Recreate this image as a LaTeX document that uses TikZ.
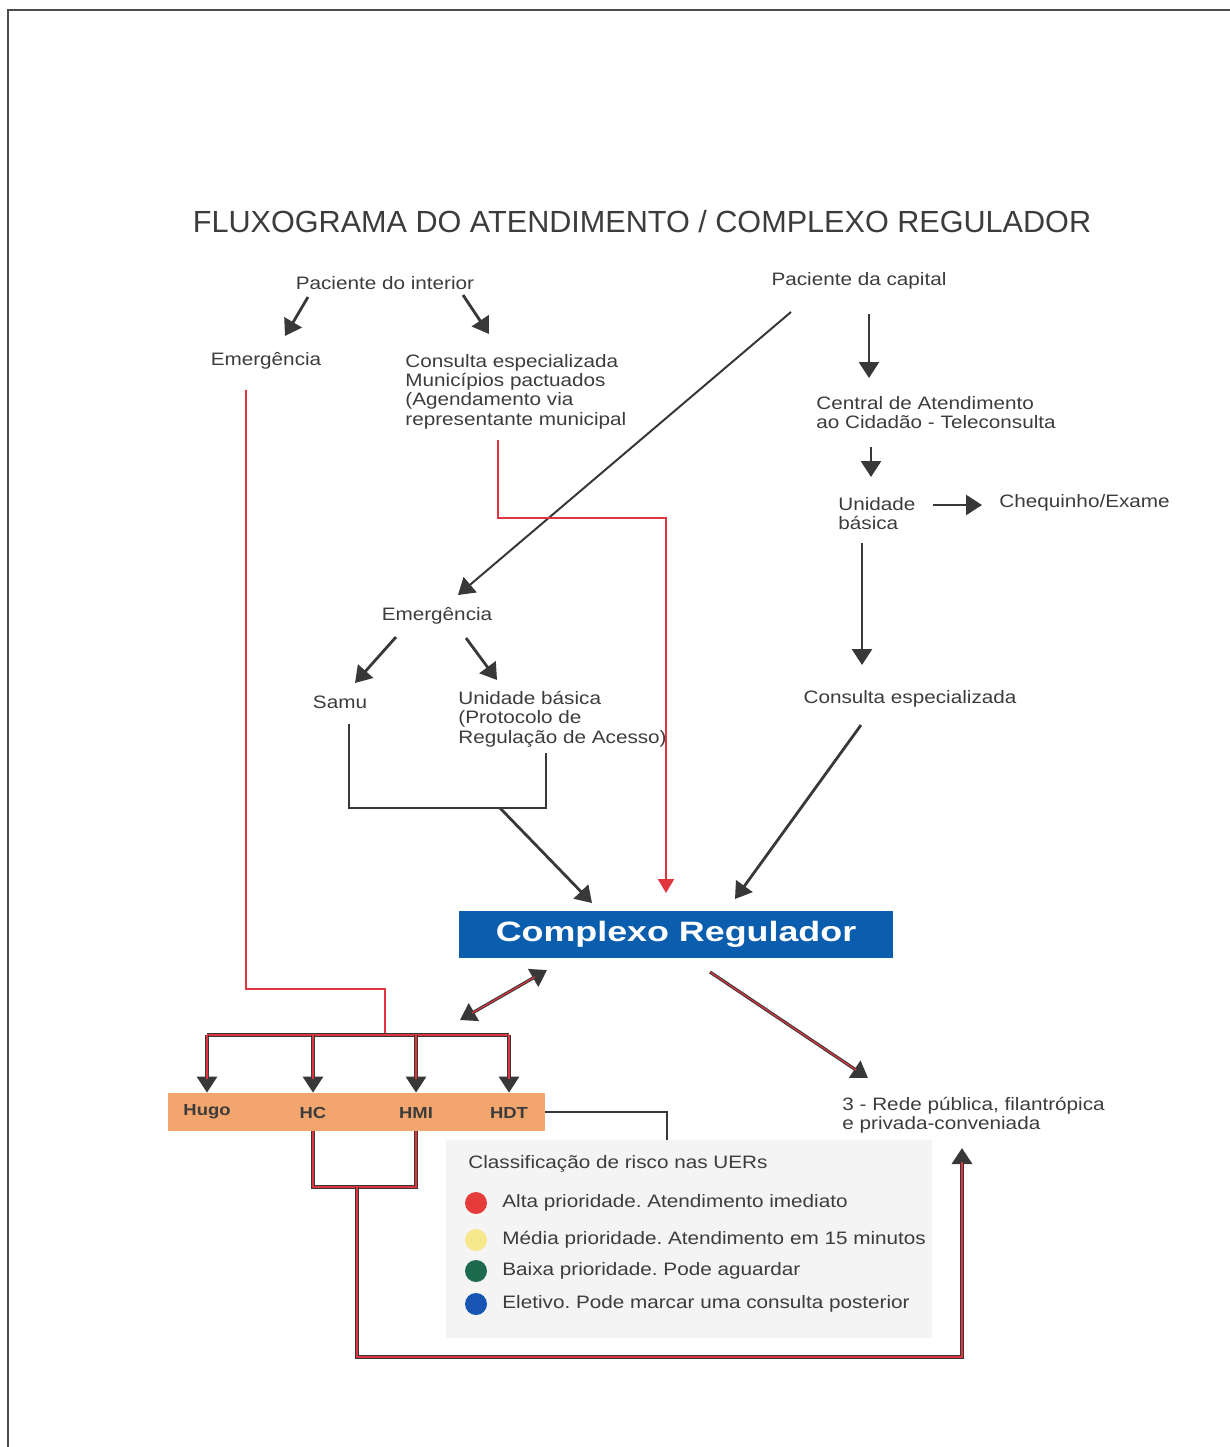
\documentclass[tikz,border=0pt]{standalone}
\usepackage{fontspec}
\setmainfont{Liberation Sans}
\newfontfamily\bodyfont{Liberation Sans}[FakeStretch=1.15]
\newfontfamily\cregfont{Liberation Sans}[FakeStretch=1.28]
\usetikzlibrary{arrows.meta,calc}
\frenchspacing
\definecolor{darkline}{HTML}{383838}
\definecolor{redline}{HTML}{E0353F}
\definecolor{regblue}{HTML}{0B5DAE}
\definecolor{hosporange}{HTML}{F2A56C}
\definecolor{txtgray}{HTML}{3C3C3C}
\definecolor{leggray}{HTML}{F4F4F4}
\definecolor{dotred}{HTML}{E63B3B}
\definecolor{dotyellow}{HTML}{F6E98C}
\definecolor{dotgreen}{HTML}{1E6A4E}
\definecolor{dotblue}{HTML}{1656B2}

\begin{document}
\begin{tikzpicture}[x=0.5pt, y=-0.5pt,
  txt/.style={font=\bodyfont\fontsize{9}{9.6}\selectfont, text=txtgray, inner sep=0pt, align=left},
  hosp/.style={font=\bodyfont\bfseries\fontsize{8}{9}\selectfont, text=txtgray, inner sep=0pt},
  arr/.style={draw=darkline, line width=1.4pt, -{Triangle[width=10pt,length=8pt]}},
  thinarr/.style={draw=darkline, line width=1pt, -{Triangle[width=10pt,length=8pt]}},
  link/.style={draw=darkline, line width=1.4pt},
  redlink/.style={draw=redline, line width=1pt},
  redarr/.style={draw=redline, line width=1pt, -{Triangle[width=8pt,length=7pt]}},
  mixedline/.style={draw=darkline, line width=1.6pt, postaction={draw=redline, line width=0.6pt}},
  mixedarr/.style={draw=darkline, line width=1.6pt, -{Triangle[width=10pt,length=8pt]},
    postaction={draw=redline, line width=0.6pt, -, shorten >=7pt}},
  mixedboth/.style={draw=darkline, line width=1.6pt, {Triangle[width=10pt,length=8pt]}-{Triangle[width=10pt,length=8pt]},
    postaction={draw=redline, line width=0.6pt, -, shorten >=7pt, shorten <=7pt}}]
  \useasboundingbox (0,0) rectangle (1230,1447);
  \draw[gray!60!black, line width=1pt] (8,1447) -- (8,10) -- (1230,10);

  \node[font=\fontsize{15.3}{17}\selectfont, text=txtgray, inner sep=0pt] (title) at (642,222) {FLUXOGRAMA DO ATENDIMENTO / COMPLEXO REGULADOR};

  \node[txt] (pint) at (385,283) {Paciente do interior};
  \node[txt] (pcap) at (859,281) {Paciente da capital};
  \node[txt] (emer1) at (266,361) {Emergência};
  \node[txt, anchor=north west] (cesp1) at (405,354) {Consulta especializada\\Municípios pactuados\\(Agendamento via\\representante municipal};
  \node[txt, anchor=north west] (cac) at (816,396) {Central de Atendimento\\ao Cidadão - Teleconsulta};
  \node[txt, anchor=north west] (ub1) at (838,497) {Unidade\\básica};
  \node[txt, anchor=west] (cheq) at (999,503) {Chequinho/Exame};
  \node[txt] (emer2) at (437,616) {Emergência};
  \node[txt] (samu) at (340,702) {Samu};
  \node[txt, anchor=north west] (ub2) at (458,691) {Unidade básica\\(Protocolo de\\Regulação de Acesso)};
  \node[txt] (cesp2) at (910,699) {Consulta especializada};
  \node[fill=regblue, minimum width=217pt, minimum height=23.5pt, inner sep=0pt, text=white,
    font=\cregfont\bfseries\fontsize{14}{16}\selectfont] (creg) at (676,934.5) {Complexo Regulador};
  \node[fill=hosporange, minimum width=188.5pt, minimum height=19pt, inner sep=0pt] (bar) at (356.5,1112) {};
  \node[hosp] (hugo) at (207,1112) {Hugo};
  \node[hosp] (hc) at (313,1113) {HC};
  \node[hosp] (hmi) at (416,1113) {HMI};
  \node[hosp] (hdt) at (509,1113) {HDT};
  \node[txt, anchor=north west] (rede) at (842,1097) {3 - Rede pública, filantrópica\\e privada-conveniada};
  \node[fill=leggray, minimum width=243pt, minimum height=99pt, inner sep=0pt] (leg) at (689,1239) {};
  \node[txt, anchor=west] (legtitle) at (468,1164) {Classificação de risco nas UERs};
  \foreach \c/\t/\y [count=\i] in {dotred/Alta prioridade. Atendimento imediato/1203,
      dotyellow/Média prioridade. Atendimento em 15 minutos/1240,
      dotgreen/Baixa prioridade. Pode aguardar/1271,
      dotblue/Eletivo. Pode marcar uma consulta posterior/1304} {
    \node[circle, fill=\c, minimum size=11pt, inner sep=0pt] (dot\i) at (476,\y) {};
    \node[txt, anchor=west] (item\i) at (502,\y) {\t};
  }

  \coordinate (join) at (500,808);
  \coordinate (bus) at (385,1035);
  \coordinate (join2) at (357,1187);

  \draw[arr] ([shift={(-77,14)}]pint.center) -- ([shift={(19,-25)}]emer1.center);
  \draw[arr] ([shift={(78,12)}]pint.center) -- ([shift={(84,-20)}]cesp1.north west);
  \draw[thinarr] ([shift={(-68,31)}]pcap.center) -- ([shift={(21,-21)}]emer2.center);
  \draw[arr] ([shift={(10,33)}]pcap.center) -- ([shift={(53,-18)}]cac.north west);
  \draw[arr] ([shift={(55,51)}]cac.north west) -- ([shift={(33,-20)}]ub1.north west);
  \draw[arr] ([shift={(95,8)}]ub1.north west) -- ([shift={(-17,2)}]cheq.west);
  \draw[arr] ([shift={(24,46)}]ub1.north west) -- ([shift={(-48,-34)}]cesp2.center);
  \draw[arr] ([shift={(-41,21)}]emer2.center) -- ([shift={(15,-19)}]samu.center);
  \draw[arr] ([shift={(29,22)}]emer2.center) -- ([shift={(39,-11)}]ub2.north west);
  \draw[link] ([shift={(9,22)}]samu.center) |- (join) -| ([shift={(88,62)}]ub2.north west);
  \draw[arr] (join) -- ([shift={(-84,-31.5)}]creg.center);
  \draw[redarr] ([shift={(93,86)}]cesp1.north west) -- ++(0,78) -| ([shift={(-10,-41.5)}]creg.center);
  \draw[arr] ([shift={(-49,26)}]cesp2.center) -- ([shift={(59,-35.5)}]creg.center);

  \draw[redlink] ([shift={(-20,29)}]emer1.center) |- ([shift={(0,-46)}]bus) -- (bus);
  \draw[mixedline] (hugo |- bus) -- (hdt |- bus);
  \foreach \h in {hugo,hc,hmi,hdt}
    \draw[mixedarr] (\h |- bus) -- (\h |- bar.north);
  \draw[mixedboth] ([shift={(-129,35.5)}]creg.center) -- ([shift={(103.5,-92)}]bar.center);
  \draw[mixedarr] ([shift={(34,37.5)}]creg.center) -- ([shift={(26,-19)}]rede.north west);
  \draw[link, line width=1pt] (bar.east) -| ([shift={(-22,0)}]leg.north);
  \draw[mixedline] (hc |- bar.south) |- (join2) -| (hmi |- bar.south);
  \draw[mixedarr] (join2) -- ++(0,170) -| ([shift={(120,51)}]rede.north west);
\end{tikzpicture}
\end{document}
